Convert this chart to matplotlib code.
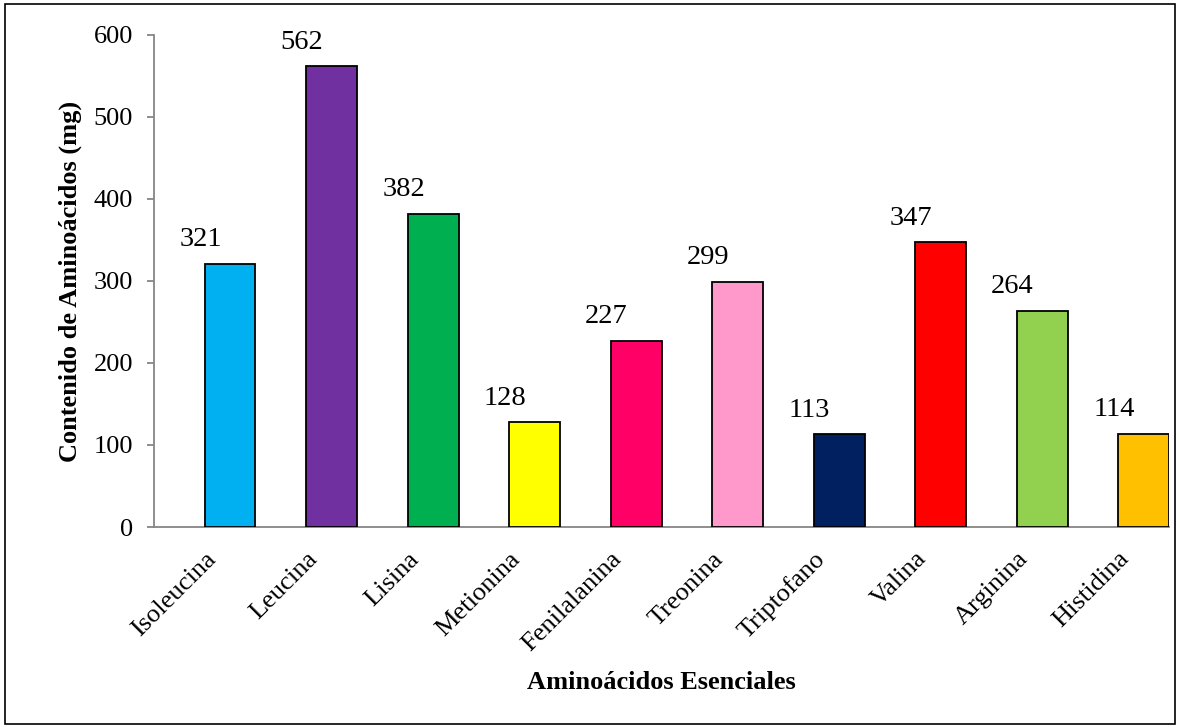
import matplotlib.pyplot as plt
from matplotlib.patches import Rectangle

aminoacidos = ['Isoleucina', 'Leucina', 'Lisina', 'Metionina', 'Fenilalanina',
               'Treonina', 'Triptofano', 'Valina', 'Arginina', 'Histidina']
contenido = [321, 562, 382, 128, 227, 299, 113, 347, 264, 114]
colores = ['#00B0F0', '#7030A0', '#00B050', '#FFFF00', '#FF0066',
           '#FF99CC', '#002060', '#FF0000', '#92D050', '#FFC000']

plt.rcParams['font.family'] = ['Liberation Serif', 'DejaVu Serif']

fig = plt.figure(figsize=(11.8, 7.27), dpi=100)
ax = fig.add_axes([0.1305, 0.2751, 0.8602, 0.6768])

x = list(range(len(aminoacidos)))
ax.bar(x, contenido, width=0.5, align='edge', color=colores,
       edgecolor='black', linewidth=1.3, zorder=3)

# etiquetas de datos sobre cada barra
for i, v in enumerate(contenido):
    ax.annotate(str(v), (i, v), xytext=(-3, 12.5), textcoords='offset points',
                ha='center', va='baseline', fontsize=20.5)

ax.set_xlim(-0.5, len(aminoacidos) - 0.5)
ax.set_ylim(0, 600)
ax.set_yticks(range(0, 601, 100))
ax.set_xticks(x)
ax.set_xticklabels(aminoacidos, rotation=45, ha='right', rotation_mode='anchor',
                   fontsize=19)
ax.tick_params(axis='y', labelsize=19, length=5, width=1.3, color='#868686', pad=10)
ax.tick_params(axis='x', length=0, pad=15)

for s in ['top', 'right']:
    ax.spines[s].set_visible(False)
for s in ['left', 'bottom']:
    ax.spines[s].set_color('#868686')
    ax.spines[s].set_linewidth(1.3)

ax.set_ylabel('Contenido de Aminoácidos (mg)', fontsize=19, fontweight='bold', va='center')
ax.set_xlabel('Aminoácidos Esenciales', fontsize=19, fontweight='bold', va='center')
ax.yaxis.set_label_coords(-0.0828, 0.5)
ax.xaxis.set_label_coords(0.5, -0.317)

fig.patches.append(Rectangle((0.004, 0.004), 0.992, 0.99, transform=fig.transFigure,
                             fill=False, edgecolor='black', linewidth=1.2))

fig.savefig('out.png', dpi=100)
